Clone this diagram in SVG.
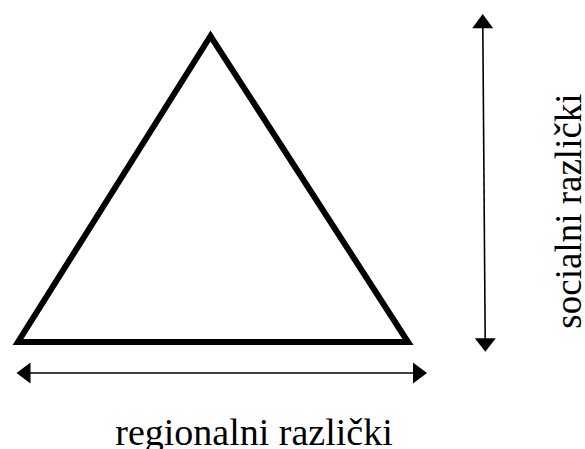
<svg xmlns="http://www.w3.org/2000/svg" width="585" height="449" viewBox="0 0 585 449">
<style>
.tri{fill:none;stroke:#000;stroke-width:6;stroke-linejoin:miter}
.conn{stroke:#000;stroke-width:1.6;fill:none}
.head{fill:#000}
.lbl{fill:#000}
</style>
<rect width="585" height="449" fill="#fff"/>
<g id="triangle">
<polygon class="tri" points="210.5,36 18,342 408,342"/>
</g>
<g id="connectors">
<g id="regional-arrow">
<line class="conn" x1="28" y1="373" x2="416" y2="373"/>
<polygon class="head" points="16.5,373 30.5,362.5 30.5,383.5"/>
<polygon class="head" points="427,373 413,362.5 413,383.5"/>
</g>
<g id="social-arrow">
<line class="conn" x1="482.8" y1="25" x2="485.2" y2="341"/>
<polygon class="head" points="482.7,14 472.2,28.3 493.2,28.3"/>
<polygon class="head" points="485.3,351.7 474.8,338.3 495.8,338.3"/>
</g>
</g>
<g id="label-regional">
<text class="lbl" x="254" y="445" text-anchor="middle" font-family="Liberation Serif, Times New Roman, serif" font-size="38">regionalni različki</text>
</g>
<g id="label-social">
<text class="lbl" transform="translate(581,211) rotate(-90)" text-anchor="middle" font-family="Liberation Serif, Times New Roman, serif" font-size="37">socialni različki</text>
</g>
</svg>
